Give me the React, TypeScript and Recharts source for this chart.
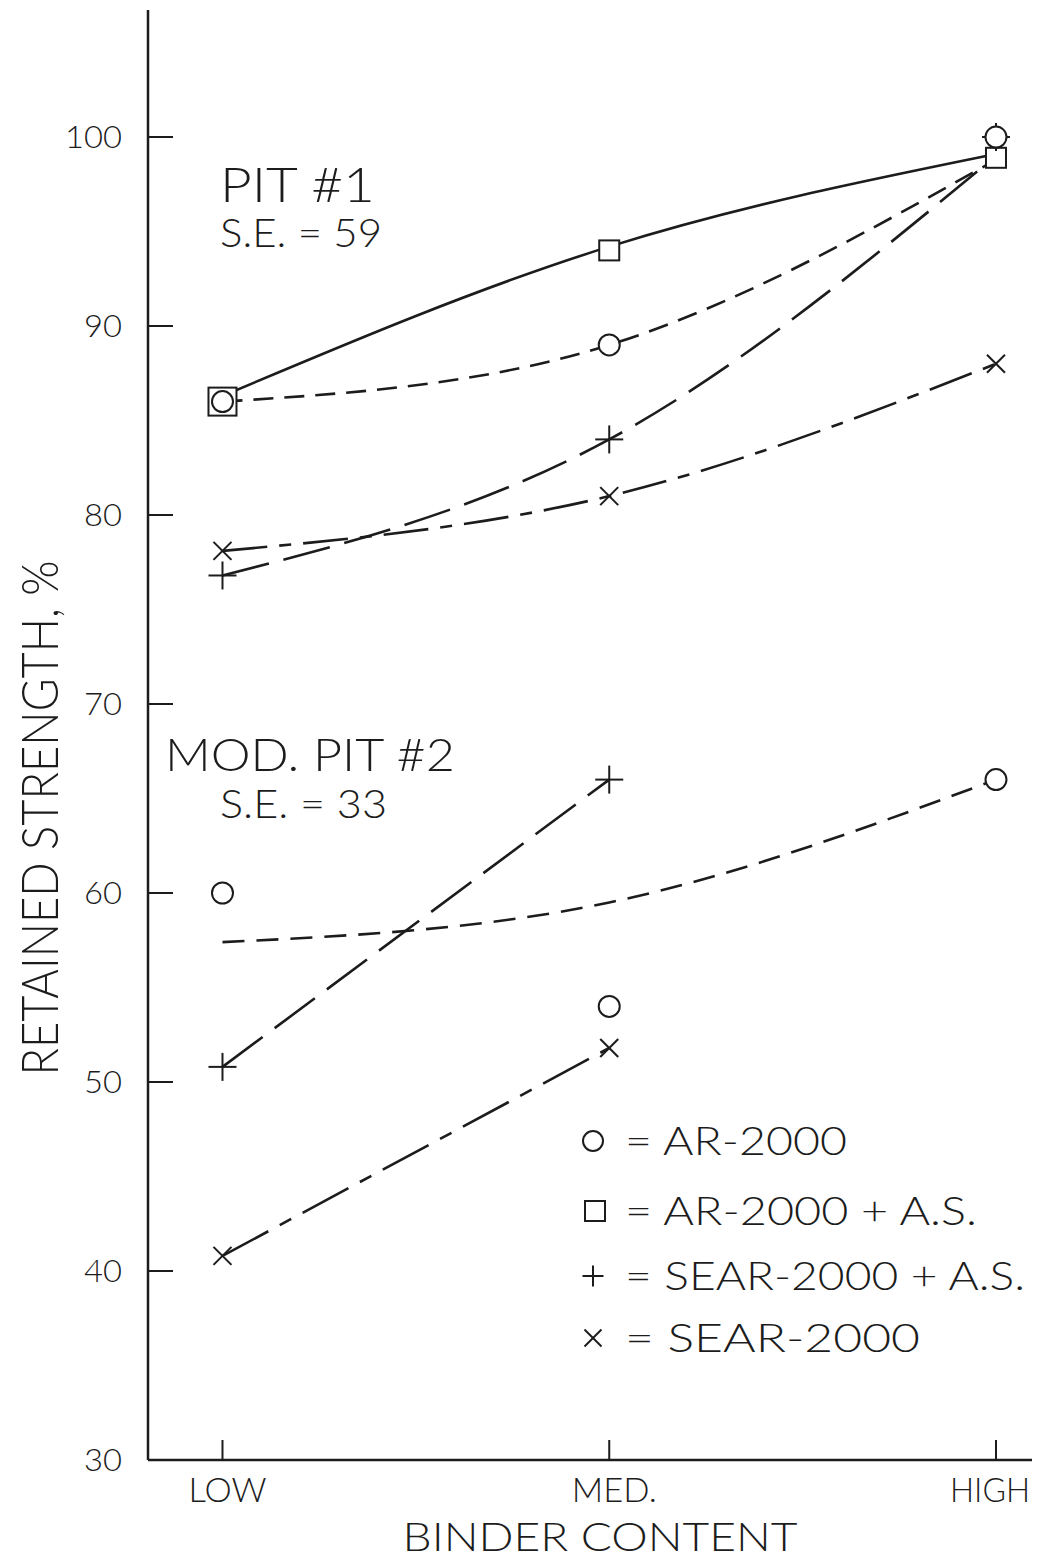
import React from "react";
import { ComposedChart, Line, Scatter, XAxis, YAxis } from "recharts";

// x positions: 0 = LOW, 1 = MED., 2 = HIGH
const categories = ["LOW", "MED.", "HIGH"];
const yTicks = [30, 40, 50, 60, 70, 80, 90, 100];

// PIT #1 (S.E. = 59) — measured points
const pit1Ar = [86, 89, 100];
const pit1ArAs = [86, 94, 98.9];
const pit1SearAs = [76.8, 84, 100];
const pit1Sear = [78.1, 81, 88];
// PIT #1 — fitted curves
const pit1ArFit = [86, 89, 98.8];
const pit1ArAsFit = [86.3, 94.2, 99.1];
const pit1SearAsFit = [76.8, 84, 99.0];
const pit1SearFit = [78.1, 81, 88];

// MOD. PIT #2 (S.E. = 33) — measured points
const pit2Ar = [60, 54, 66];
const pit2SearAs = [50.8, 66];
const pit2Sear = [40.8, 51.8];
// MOD. PIT #2 — fitted curves
const pit2ArFit = [57.4, 59.5, 66];
const pit2SearAsFit = [50.8, 66];
const pit2SearFit = [40.8, 51.8];

const legendItems = [
  { mark: "circle", label: "= AR-2000" },
  { mark: "square", label: "= AR-2000 + A.S." },
  { mark: "plus", label: "= SEAR-2000 + A.S." },
  { mark: "cross", label: "= SEAR-2000" },
];

const pts = (arr: number[]) => arr.map((y, i) => ({ x: i, y }));

const INK = "#1c1c1c";
const FONT = "Lato, Inter, 'DejaVu Sans', sans-serif";
const W = 1032;
const H = 1552;

const allCircles = [...pts(pit1Ar), ...pts(pit2Ar)];

function CircleMark({ cx, cy, r = 10.5 }: any) {
  return <circle cx={cx} cy={cy} r={r} fill="#fff" stroke={INK} strokeWidth={2} />;
}
function SquareMark({ cx, cy, s = 20 }: any) {
  return <rect x={cx - s / 2} y={cy - s / 2} width={s} height={s} fill="#fff" stroke={INK} strokeWidth={2} />;
}
function PlusMark({ cx, cy, h = 14 }: any) {
  return (
    <g stroke={INK} strokeWidth={2}>
      <line x1={cx - h} x2={cx + h} y1={cy} y2={cy} />
      <line x1={cx} x2={cx} y1={cy - h} y2={cy + h} />
    </g>
  );
}
function CrossMark({ cx, cy, h = 9 }: any) {
  return (
    <g stroke={INK} strokeWidth={2}>
      <line x1={cx - h} x2={cx + h} y1={cy - h} y2={cy + h} />
      <line x1={cx - h} x2={cx + h} y1={cy + h} y2={cy - h} />
    </g>
  );
}

// square grows to enclose a circle plotted at the same spot
const renderSquare = (p: any) => {
  const shared = allCircles.some((c) => c.x === p.payload.x && Math.abs(c.y - p.payload.y) < 0.5);
  return <SquareMark cx={p.cx} cy={p.cy} s={shared ? 28 : 20} />;
};

const YTick = ({ x, y, payload }: any) => (
  <g>
    <line x1={x} x2={x + 25} y1={y} y2={y} stroke={INK} strokeWidth={2} />
    <text
      x={x - 26}
      y={y + 11}
      textAnchor="end"
      fontSize={31}
      fontFamily={FONT}
      fontWeight={300}
      fill={INK}
      textLength={payload.value >= 100 ? 57 : 38}
      lengthAdjust="spacingAndGlyphs"
    >
      {payload.value}
    </text>
  </g>
);

const xLabelWidth = [78, 85, 80];
const xLabelShift = [5, 5, -6];
const XTick = ({ x, y, payload }: any) => (
  <g>
    <line x1={x} x2={x} y1={y} y2={y - 20} stroke={INK} strokeWidth={2} />
    <text
      x={x + xLabelShift[payload.value]}
      y={y + 42}
      textAnchor="middle"
      fontSize={34}
      fontFamily={FONT}
      fontWeight={300}
      fill={INK}
      textLength={xLabelWidth[payload.value]}
      lengthAdjust="spacingAndGlyphs"
    >
      {categories[payload.value]}
    </text>
  </g>
);

const lineCommon = {
  type: "natural" as const,
  dataKey: "y",
  stroke: INK,
  strokeWidth: 2.6,
  dot: false,
  activeDot: false,
  isAnimationActive: false,
};

const txt = (x: number, y: number, s: string, size: number, len: number, extra: any = {}) => (
  <text
    x={x}
    y={y}
    fontSize={size}
    fontFamily={FONT}
    fontWeight={300}
    fill={INK}
    textLength={len}
    lengthAdjust="spacingAndGlyphs"
    {...extra}
  >
    {s}
  </text>
);

const legendY = [1133, 1203, 1268, 1330];
const legendLen = [222, 352, 400, 295];

export default function App() {
  return (
    <div style={{ position: "relative", width: W, height: H, background: "#fff" }}>
      <ComposedChart width={W} height={H} margin={{ top: 2, right: 0, bottom: 0, left: 10 }}>
        <XAxis
          type="number"
          dataKey="x"
          domain={[-0.1926, 2.1138]}
          ticks={[0, 1, 2]}
          allowDataOverflow
          height={100}
          tickSize={0}
          tickMargin={0}
          tickLine={false}
          tick={<XTick />}
          axisLine={{ stroke: INK, strokeWidth: 2.5 }}
        />
        <YAxis
          type="number"
          domain={[30, 106.72]}
          ticks={yTicks}
          allowDataOverflow
          width={130}
          tickSize={0}
          tickMargin={0}
          tickLine={false}
          tick={<YTick />}
          axisLine={{ stroke: INK, strokeWidth: 2.5 }}
        />

        <Line {...lineCommon} data={pts(pit1ArAsFit)} />
        <Line {...lineCommon} data={pts(pit1ArFit)} strokeDasharray="20 11" />
        <Line {...lineCommon} data={pts(pit1SearAsFit)} strokeDasharray="48 15" />
        <Line {...lineCommon} data={pts(pit1SearFit)} strokeDasharray="45 12 12 12" />
        <Line {...lineCommon} data={pts(pit2ArFit)} strokeDasharray="22 12" />
        <Line {...lineCommon} data={pts(pit2SearAsFit)} strokeDasharray="50 15" />
        <Line {...lineCommon} data={pts(pit2SearFit)} strokeDasharray="52 13 13 13" />

        <Scatter data={pts(pit1ArAs)} dataKey="y" shape={renderSquare} isAnimationActive={false} />
        <Scatter data={pts(pit1SearAs)} dataKey="y" shape={(p: any) => <PlusMark cx={p.cx} cy={p.cy} />} isAnimationActive={false} />
        <Scatter data={pts(pit2SearAs)} dataKey="y" shape={(p: any) => <PlusMark cx={p.cx} cy={p.cy} />} isAnimationActive={false} />
        <Scatter data={pts(pit1Sear)} dataKey="y" shape={(p: any) => <CrossMark cx={p.cx} cy={p.cy} />} isAnimationActive={false} />
        <Scatter data={pts(pit2Sear)} dataKey="y" shape={(p: any) => <CrossMark cx={p.cx} cy={p.cy} />} isAnimationActive={false} />
        <Scatter data={pts(pit1Ar)} dataKey="y" shape={(p: any) => <CircleMark cx={p.cx} cy={p.cy} />} isAnimationActive={false} />
        <Scatter data={pts(pit2Ar)} dataKey="y" shape={(p: any) => <CircleMark cx={p.cx} cy={p.cy} />} isAnimationActive={false} />
      </ComposedChart>

      <svg width={W} height={H} style={{ position: "absolute", left: 0, top: 0, pointerEvents: "none" }}>
        {txt(212, 194, "PIT #1", 48, 155)}
        {txt(212, 239, "S.E. = 59", 40, 162)}
        {txt(157, 763, "MOD. PIT #2", 46, 290)}
        {txt(212, 810, "S.E. = 33", 40, 167)}

        {txt(50, 810, "RETAINED STRENGTH, %", 52, 515, {
          textAnchor: "middle",
          transform: "rotate(-90 50 810)",
        })}
        {txt(592, 1543, "BINDER CONTENT", 40, 395, { textAnchor: "middle" })}

        {legendItems.map((it, i) => {
          const cy = legendY[i];
          const cx = 585;
          return (
            <g key={it.label}>
              {it.mark === "circle" && <CircleMark cx={cx} cy={cy} r={10} />}
              {it.mark === "square" && <SquareMark cx={cx + 2} cy={cy} s={20} />}
              {it.mark === "plus" && <PlusMark cx={cx} cy={cy} h={10.5} />}
              {it.mark === "cross" && <CrossMark cx={cx} cy={cy} h={8.5} />}
              {txt(617, cy + 14, it.label, 40, legendLen[i])}
            </g>
          );
        })}
      </svg>
    </div>
  );
}
